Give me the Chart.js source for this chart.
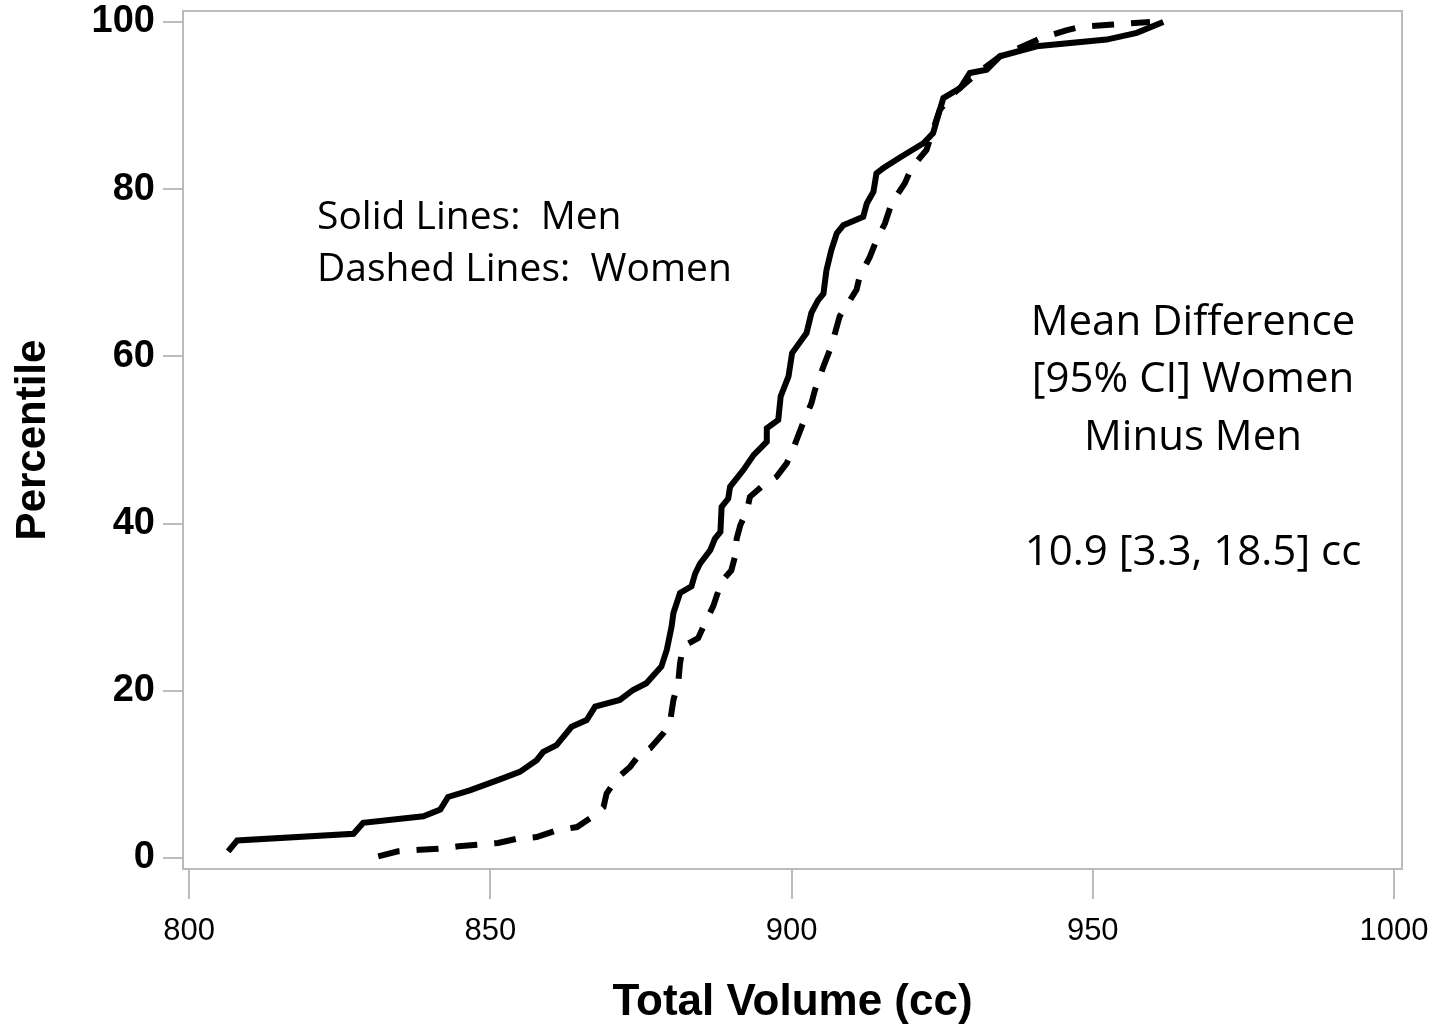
<!DOCTYPE html>
<html>
<head>
<meta charset="utf-8">
<script src="https://cdn.jsdelivr.net/npm/chart.js@4.4.1/dist/chart.umd.min.js"></script>
<style>
  html, body { margin: 0; padding: 0; background: #fff; }
</style>
</head>
<body>
<canvas id="myChart" width="1433" height="1031"></canvas>
<script>
/*** data ***/
const menVolume = [806.5, 808, 827.3, 828.9, 838.9, 841.7, 843, 846.6, 851.6, 854.9, 857.7, 858.8, 861, 863.5, 866, 867.4, 871.5, 873.7, 875.9, 878.4, 879.3, 880.1, 880.4, 881.5, 883.4, 884, 884.8, 886.5, 887.3, 888.2, 888.4, 889.5, 889.8, 892, 893.7, 895.9, 895.9, 897.8, 898.2, 899.5, 900.1, 902.5, 903.3, 904.4, 905.3, 905.8, 906.6, 907.5, 908.6, 911.9, 912.5, 913.6, 914.1, 915.2, 918, 921.9, 923.5, 924.3, 925.2, 928, 929.6, 932.4, 934.6, 940.7, 952.3, 957.3, 961.7];
const menPercentile = [0.8, 2.1, 2.9, 4.2, 5.0, 5.8, 7.3, 8.1, 9.4, 10.3, 11.7, 12.7, 13.5, 15.7, 16.5, 18.1, 18.9, 20.1, 20.9, 22.9, 24.9, 27.7, 29.3, 31.7, 32.5, 34, 35.2, 36.8, 38.2, 39, 42, 43, 44.4, 46.4, 48.2, 49.8, 51.4, 52.4, 55.2, 57.6, 60.4, 62.8, 65.2, 66.7, 67.5, 70.3, 72.7, 74.7, 75.7, 76.7, 78.3, 79.7, 81.9, 82.5, 83.8, 85.5, 86.7, 88.7, 90.9, 92.1, 93.9, 94.3, 95.9, 97.1, 97.9, 98.7, 100];

const womenVolume = [831.4, 834.7, 838.3, 841.4, 844.7, 848, 851.3, 854.4, 857.7, 861, 864.4, 866.7, 868.8, 869.3, 871, 873.2, 874.9, 876.5, 878.7, 879.8, 880.4, 881.2, 881.5, 882, 884.5, 885.9, 887, 888.4, 890, 890.6, 890.9, 891.5, 892.6, 893.1, 895.3, 897.5, 899.2, 900.3, 901.9, 903.3, 903.9, 905.3, 906.6, 908, 909.1, 910.8, 911.3, 913, 914.1, 915.5, 916.6, 918.8, 919.9, 922.4, 924.6, 927, 930.2, 934.6, 940, 941.2, 945.6, 947.9, 953.4, 959.5];
const womenPercentile = [0.2, 0.8, 1.0, 1.1, 1.4, 1.6, 1.8, 2.3, 2.5, 3.3, 3.7, 4.8, 6.1, 7.7, 9.5, 10.9, 12.5, 13.1, 14.9, 16.1, 18.9, 21, 23.3, 25.3, 26.3, 28.5, 30.1, 33.1, 34.4, 36, 38.2, 39.8, 41.6, 43.2, 44.6, 45.6, 47.2, 49, 52, 54.4, 56, 58.8, 61.2, 64.8, 66, 68, 69.5, 71.9, 73.9, 75.9, 78.3, 80.7, 82.5, 84.7, 89.5, 91.5, 93.5, 95.9, 97.6, 98, 99, 99.4, 99.7, 100];

const xTicks = [800, 850, 900, 950, 1000];
const yTicks = [0, 20, 40, 60, 80, 100];

const legendLines = ["Solid Lines:  Men", "Dashed Lines:  Women"];
const statLines = ["Mean Difference", "[95% CI] Women", "Minus Men", "", "10.9 [3.3, 18.5] cc"];

function toPoints(xs, ys) {
  return xs.map((x, i) => ({ x: x, y: ys[i] }));
}

const frameColor = "#b7bcc1";

// grey box round the plot area
const framePlugin = {
  id: "frame",
  beforeDatasetsDraw(chart) {
    const a = chart.chartArea;
    const ctx = chart.ctx;
    ctx.save();
    ctx.strokeStyle = frameColor;
    ctx.lineWidth = 2;
    ctx.strokeRect(a.left, a.top, a.right - a.left, a.bottom - a.top);
    ctx.restore();
  },
};

// the two text blocks inside the plot
const notesPlugin = {
  id: "notes",
  afterDraw(chart) {
    const ctx = chart.ctx;
    ctx.save();
    ctx.fillStyle = "#000";
    ctx.textBaseline = "middle";
    ctx.font = '39px "Open Sans"';
    ctx.textAlign = "left";
    legendLines.forEach((t, i) => ctx.fillText(t, 317, 218 + i * 52));
    ctx.font = '42px "Open Sans"';
    ctx.textAlign = "center";
    statLines.forEach((t, i) => ctx.fillText(t, 1193, 323 + i * 57.5));
    ctx.restore();
  },
};

// fixed axis boxes, no extra room for edge labels
function fixBox(size) {
  return (s) => {
    if (s.isHorizontal()) s.height = size; else s.width = size;
    s.paddingTop = 0;
    s.paddingBottom = 0;
    s.paddingLeft = 0;
    s.paddingRight = 0;
  };
}

var ctx = document.getElementById("myChart").getContext("2d");
var chart = new Chart(ctx, {
  type: "line",
  data: {
    datasets: [
      {
        label: "Men",
        data: toPoints(menVolume, menPercentile),
        borderColor: "#000",
        borderWidth: 6,
        pointRadius: 0,
        tension: 0,
        fill: false,
      },
      {
        label: "Women",
        data: toPoints(womenVolume, womenPercentile),
        borderColor: "#000",
        borderWidth: 6,
        borderDash: [22, 17],
        pointRadius: 0,
        tension: 0,
        fill: false,
      },
    ],
  },
  options: {
    responsive: false,
    animation: false,
    devicePixelRatio: 1,
    layout: { padding: { left: 0, right: 31, top: 11, bottom: 0 } },
    plugins: {
      legend: { display: false },
      tooltip: { enabled: false },
    },
    scales: {
      x: {
        type: "linear",
        min: 799,
        max: 1001.33,
        afterBuildTicks: (s) => { s.ticks = xTicks.map((v) => ({ value: v })); },
        afterFit: fixBox(162),
        border: { display: false },
        grid: {
          drawOnChartArea: false,
          drawTicks: true,
          tickLength: 30,
          color: frameColor,
          lineWidth: 2,
        },
        ticks: {
          color: "#000",
          padding: 14,
          maxRotation: 0,
          callback: (v) => String(v),
          font: { family: '"Liberation Sans", Arial, sans-serif', size: 31 },
        },
        title: {
          display: true,
          text: "Total Volume (cc)",
          color: "#000",
          padding: { top: 0, bottom: 2 },
          font: { family: '"Liberation Sans", Arial, sans-serif', size: 44, weight: "bold" },
        },
      },
      y: {
        type: "linear",
        min: -1.316,
        max: 101.316,
        afterBuildTicks: (s) => { s.ticks = yTicks.map((v) => ({ value: v })); },
        afterFit: fixBox(183),
        border: { display: false },
        grid: {
          drawOnChartArea: false,
          drawTicks: true,
          tickLength: 20,
          color: frameColor,
          lineWidth: 2,
        },
        ticks: {
          color: "#000",
          padding: 8,
          callback: (v) => String(v),
          font: { family: '"Liberation Sans", Arial, sans-serif', size: 38, weight: "bold" },
        },
        title: {
          display: true,
          text: "Percentile",
          color: "#000",
          padding: { top: 8, bottom: 0 },
          font: { family: '"Liberation Sans", Arial, sans-serif', size: 42, weight: "bold" },
        },
      },
    },
  },
  plugins: [framePlugin, notesPlugin],
});
</script>
</body>
</html>
